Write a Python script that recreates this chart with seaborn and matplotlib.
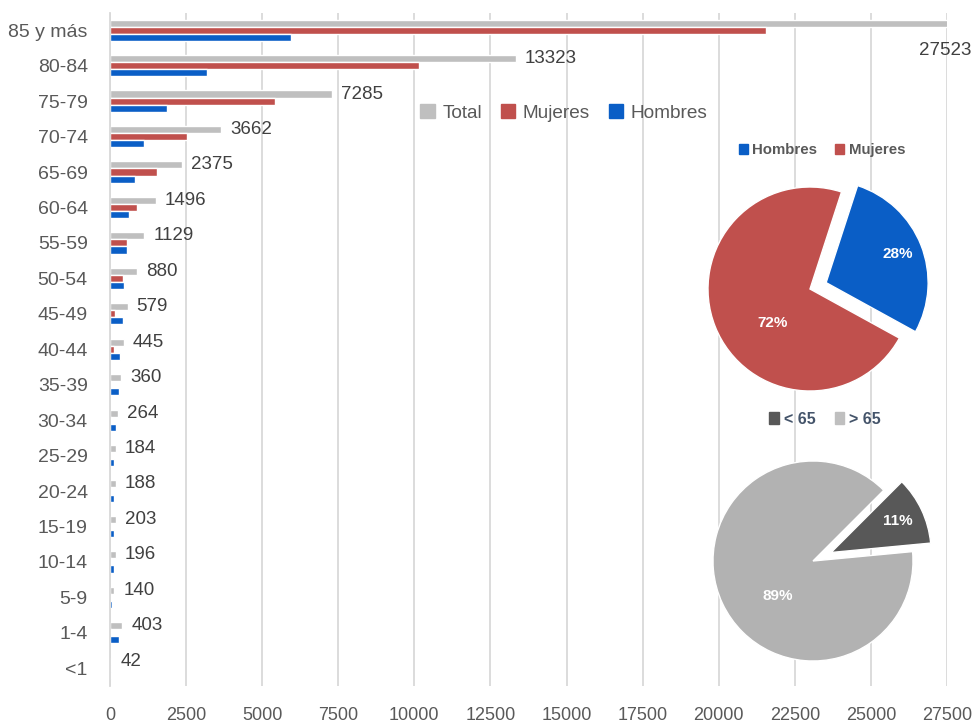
import numpy as np
import pandas as pd
import matplotlib
matplotlib.use("Agg")
import matplotlib.pyplot as plt
import seaborn as sns
from matplotlib import font_manager
from matplotlib.patches import Patch

# ---------------- data ----------------
grupos = ["85 y más", "80-84", "75-79", "70-74", "65-69", "60-64", "55-59", "50-54",
          "45-49", "40-44", "35-39", "30-34", "25-29", "20-24", "15-19", "10-14",
          "5-9", "1-4", "<1"]
total = [27523, 13323, 7285, 3662, 2375, 1496, 1129, 880, 579, 445, 360, 264,
         184, 188, 203, 196, 140, 403, 42]
mujeres = [21560, 10140, 5410, 2530, 1540, 880, 565, 420, 165, 120, 40, 30,
           12, 12, 12, 20, 25, 40, 15]
hombres = [5963, 3183, 1875, 1132, 835, 616, 564, 460, 414, 325, 290, 200,
           135, 135, 135, 135, 70, 290, 20]
series = ["Total", "Mujeres", "Hombres"]
x_ticks = list(range(0, 27501, 2500))

sexo_labels = ["Hombres", "Mujeres"]
sexo_pct = [28, 72]
edad_labels = ["< 65", "> 65"]
edad_pct = [11, 89]

# ---------------- style ----------------
sns.set_style("white")
names = {f.name for f in font_manager.fontManager.ttflist}
NARROW = "Liberation Sans Narrow" in names
FONT = "Liberation Sans Narrow" if NARROW else "Liberation Sans"
K = 1.2 if NARROW else 1.0
plt.rcParams["font.family"] = [FONT, "DejaVu Sans"]

C_TOTAL, C_MUJ, C_HOM = "#bfbfbf", "#c0504d", "#0a5ec6"
TXT = "#595959"

df = pd.DataFrame({"grupo": grupos, "Total": total, "Mujeres": mujeres, "Hombres": hombres})
df_long = df.melt(id_vars="grupo", value_vars=series, var_name="serie", value_name="valor")

W, H = 974, 725
fig = plt.figure(figsize=(W / 100, H / 100), dpi=100)
fig.patch.set_facecolor("white")

# main bar axes
x0, x1, y0, y1 = 110, 947, 12.5, 686
ax = fig.add_axes([x0 / W, 1 - y1 / H, (x1 - x0) / W, (y1 - y0) / H])
sns.barplot(data=df_long, y="grupo", x="valor", hue="serie", hue_order=series,
            order=grupos, palette=[C_TOTAL, C_MUJ, C_HOM], orient="h", width=0.6,
            saturation=1, errorbar=None, legend=False, ax=ax)
ax.set_xlim(0, 27500)
ax.set_xticks(x_ticks)
ax.set_xticklabels([str(t) for t in x_ticks])
ax.set_xlabel("")
ax.set_ylabel("")
ax.grid(axis="x", color="#d9d9d9", lw=1.3)
ax.grid(axis="y", visible=False)
ax.set_axisbelow(True)
for s in ["top", "right", "bottom"]:
    ax.spines[s].set_visible(False)
ax.spines["left"].set_color("#d9d9d9")
ax.spines["left"].set_linewidth(1.3)
ax.tick_params(axis="x", length=0, pad=15, labelsize=13 * K, labelcolor=TXT)
ax.tick_params(axis="y", length=0, pad=16, labelsize=14 * K, labelcolor=TXT)

for i, v in enumerate(total):
    if i == 0:
        ax.annotate(str(v), xy=(v, i - 0.2), xytext=(24, -27), textcoords="offset pixels",
                    ha="right", va="center", fontsize=13.5 * K, color="#404040",
                    annotation_clip=False)
    else:
        ax.annotate(str(v), xy=(v, i - 0.2), xytext=(9, 0), textcoords="offset pixels",
                    ha="left", va="center", fontsize=13.5 * K, color="#404040",
                    annotation_clip=False)

handles = [Patch(color=c) for c in [C_TOTAL, C_MUJ, C_HOM]]
fig.legend(handles, series, loc="center", bbox_to_anchor=(564 / W, 1 - 113 / H), ncol=3,
           frameon=False, fontsize=13.7 * K, handlelength=0.75, handleheight=0.75,
           handletextpad=0.4, columnspacing=1.0, labelcolor=TXT)


def pie_axes(bx0, by0, bx1, by1, cx, cy, R):
    a = fig.add_axes([bx0 / W, 1 - by1 / H, (bx1 - bx0) / W, (by1 - by0) / H])
    a.set_facecolor("white")
    return a, ((bx0 - cx) / R, (bx1 - cx) / R), ((cy - by1) / R, (cy - by0) / R)


def finish(a, xl, yl):
    a.set_xlim(*xl)
    a.set_ylim(*yl)
    a.set_aspect("auto")
    a.set_xticks([])
    a.set_yticks([])
    for s in a.spines.values():
        s.set_visible(False)


# pie 1: sexo
pa, xl, yl = pie_axes(700, 127, 940, 394, 810, 289, 102)
wedges, _ = pa.pie(sexo_pct, colors=[C_HOM, C_MUJ], startangle=72, counterclock=False,
                   explode=[0.17, 0])
finish(pa, xl, yl)
for w, p, r, ang in zip(wedges, sexo_pct, [0.76, 0.5], [None, 222]):
    th = np.deg2rad((w.theta1 + w.theta2) / 2 if ang is None else ang)
    off = 0.17 if ang is None else 0
    pa.text((r + off) * np.cos(th), (r + off) * np.sin(th), f"{p}%", ha="center", va="center",
            color="white", fontsize=11 * K, fontweight="bold")
fig.legend([Patch(color=C_HOM), Patch(color=C_MUJ)], sexo_labels, loc="center",
           bbox_to_anchor=(822 / W, 1 - 150 / H), ncol=2, frameon=False,
           prop={"size": 10.8 * K, "weight": "bold"}, handlelength=0.6, handleheight=0.7,
           handletextpad=0.3, columnspacing=1.2, labelcolor=TXT)

# pie 2: edad
C_DARK, C_LIGHT = "#585858", "#b2b2b2"
pb, xl, yl = pie_axes(700, 397, 940, 680, 813, 561, 100)
wedges, _ = pb.pie(edad_pct, colors=[C_DARK, C_LIGHT], startangle=45, counterclock=False,
                   explode=[0.2, 0])
finish(pb, xl, yl)
for w, p, r, ang in zip(wedges, edad_pct, [0.74, 0.5], [None, 225]):
    th = np.deg2rad((w.theta1 + w.theta2) / 2 if ang is None else ang)
    off = 0.2 if ang is None else 0
    pb.text((r + off) * np.cos(th), (r + off) * np.sin(th), f"{p}%", ha="center", va="center",
            color="white", fontsize=11 * K, fontweight="bold")
fig.legend([Patch(color=C_DARK), Patch(color="#bfbfbf")], edad_labels, loc="center",
           bbox_to_anchor=(825 / W, 1 - 419 / H), ncol=2, frameon=False,
           prop={"size": 11.5 * K, "weight": "bold"}, handlelength=0.6, handleheight=0.7,
           handletextpad=0.3, columnspacing=1.2, labelcolor="#44546a")

fig.savefig("out.png", dpi=100, facecolor="white")
